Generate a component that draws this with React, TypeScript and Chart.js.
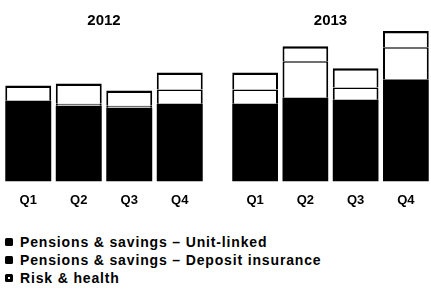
import React, { useEffect, useRef } from "react";
import { Chart, registerables } from "chart.js";

Chart.register(...registerables);

const categories = ["Q1", "Q2", "Q3", "Q4"];
const years = ["2012", "2013"];
const seriesNames = [
  "Pensions & savings – Unit-linked",
  "Pensions & savings – Deposit insurance",
  "Risk & health",
];
const unitLinked2012 = [80, 75, 73, 77];
const deposit2012 = [0, 2, 2, 14];
const risk2012 = [15, 20, 15, 17];
const unitLinked2013 = [77, 83, 81, 101];
const deposit2013 = [14, 36, 12, 32];
const risk2013 = [17, 15, 19, 16];

const FONT = "'Liberation Sans', Arial, Helvetica, sans-serif";

function makeConfig(title: string, ul: number[], dep: number[], risk: number[], padL: number, padR: number, barPct: number): any {
  return {
    type: "bar",
    data: {
      labels: categories,
      datasets: [
        {
          label: seriesNames[0],
          data: ul,
          backgroundColor: "#000",
          borderWidth: 0,
          barPercentage: barPct,
          categoryPercentage: 1,
        },
        {
          label: seriesNames[1],
          data: dep,
          backgroundColor: "#fff",
          borderColor: "#000",
          borderWidth: { top: 1.5, left: 2, right: 2, bottom: 0 },
          borderSkipped: false,
          barPercentage: barPct,
          categoryPercentage: 1,
        },
        {
          label: seriesNames[2],
          data: risk,
          backgroundColor: "#fff",
          borderColor: "#000",
          borderWidth: { top: 2.5, left: 2, right: 2, bottom: 0 },
          borderSkipped: false,
          barPercentage: barPct,
          categoryPercentage: 1,
        },
      ],
    },
    options: {
      responsive: false,
      animation: false,
      layout: { padding: { left: padL, right: padR, top: 0, bottom: 7 } },
      plugins: {
        legend: { display: false },
        tooltip: { enabled: false },
        title: {
          display: true,
          text: title,
          color: "#000",
          font: { family: FONT, size: 15, weight: "bold", lineHeight: 1.2 },
          padding: { top: 12, bottom: 0 },
        },
      },
      scales: {
        x: {
          stacked: true,
          grid: { display: false, drawTicks: false },
          border: { display: false },
          ticks: {
            color: "#000",
            padding: 11,
            font: { family: FONT, size: 13, weight: "bold", lineHeight: 1.2 },
          },
        },
        y: {
          stacked: true,
          display: false,
          min: 0,
          max: 150,
        },
      },
    },
  };
}

export default function App() {
  const ref1 = useRef<HTMLCanvasElement>(null);
  const ref2 = useRef<HTMLCanvasElement>(null);

  useEffect(() => {
    document.body.style.margin = "0";
    const c1 = new Chart(ref1.current!, makeConfig(years[0], unitLinked2012, deposit2012, risk2012, 3, 3, 0.91));
    const c2 = new Chart(ref2.current!, makeConfig(years[1], unitLinked2013, deposit2013, risk2013, 4, 0, 0.91));
    return () => {
      c1.destroy();
      c2.destroy();
    };
  }, []);

  const markers = [
    { background: "#000", border: "none" },
    { background: "#000", border: "none" },
    { background: "#fff", border: "3px solid #000" },
  ];

  return (
    <div style={{ position: "relative", width: 431, height: 293, background: "#fff", overflow: "hidden" }}>
      <canvas ref={ref1} width={208} height={226} style={{ position: "absolute", left: 0, top: 0, width: 208, height: 226 }} />
      <canvas ref={ref2} width={205} height={226} style={{ position: "absolute", left: 226, top: 0, width: 205, height: 226 }} />
      <div style={{ position: "absolute", left: 5, top: 233 }}>
        {seriesNames.map((name, i) => (
          <div key={name} style={{ display: "flex", alignItems: "center", height: 18, fontFamily: FONT, fontWeight: "bold", fontSize: 14, letterSpacing: "0.85px", color: "#000", whiteSpace: "nowrap" }}>
            <span style={{ display: "inline-block", width: 8, height: 8, boxSizing: "border-box", borderRadius: 1.5, background: markers[i].background, border: markers[i].border, marginRight: 7 }} />
            <span>{name}</span>
          </div>
        ))}
      </div>
    </div>
  );
}
